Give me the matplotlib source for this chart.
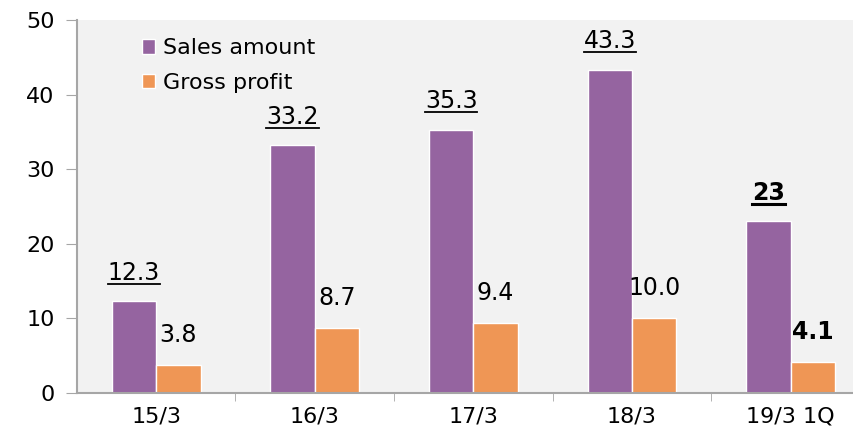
import matplotlib
matplotlib.use("Agg")
import numpy as np
import matplotlib.pyplot as plt
from matplotlib.lines import Line2D

categories = ["15/3", "16/3", "17/3", "18/3", "19/3 1Q"]
sales = [12.3, 33.2, 35.3, 43.3, 23]
profit = [3.8, 8.7, 9.4, 10.0, 4.1]
sales_labels = ["12.3", "33.2", "35.3", "43.3", "23"]
profit_labels = ["3.8", "8.7", "9.4", "10.0", "4.1"]

purple = "#9564a0"
orange = "#ef9655"


def main():
    fig = plt.figure(figsize=(8.54, 4.34), dpi=100)
    ax = fig.add_axes([0.090, 0.0945, 0.910, 0.859])
    ax.set_facecolor("#f2f2f2")

    x = np.arange(len(categories))
    w = 0.28
    ax.bar(x - w / 2, sales, w, color=purple, edgecolor="white", linewidth=1, label="Sales amount")
    ax.bar(x + w / 2, profit, w, color=orange, edgecolor="white", linewidth=1, label="Gross profit")

    # value labels, last category in bold
    underlined = []
    for i in range(len(categories)):
        weight = "bold" if i == len(categories) - 1 else "normal"
        t = ax.annotate(sales_labels[i], (x[i] - w / 2, sales[i]), xytext=(0, 12), textcoords="offset points",
                        ha="center", va="bottom", fontsize=17, fontweight=weight)
        underlined.append((t, weight))
        ax.annotate(profit_labels[i], (x[i] + w / 2, profit[i]), xytext=(0, 13), textcoords="offset points",
                    ha="center", va="bottom", fontsize=17, fontweight=weight)

    ax.set_ylim(0, 50)
    ax.set_yticks([0, 10, 20, 30, 40, 50])
    ax.set_xlim(-0.5, 4.4)
    ax.set_xticks(x)
    ax.set_xticklabels(categories)
    ax.set_xticks(np.arange(0.5, 4.5, 1), minor=True)
    ax.tick_params(axis="x", which="major", length=0, pad=10, labelsize=16)
    ax.tick_params(axis="x", which="minor", length=6, color="#a6a6a6", direction="out")
    ax.tick_params(axis="y", length=8, color="#a6a6a6", pad=8, labelsize=16)

    for side in ["top", "right"]:
        ax.spines[side].set_visible(False)
    for side in ["left", "bottom"]:
        ax.spines[side].set_color("#a6a6a6")
        ax.spines[side].set_linewidth(1.5)

    ax.legend(loc="upper left", bbox_to_anchor=(0.058, 1.005), frameon=False, fontsize=16,
              handlelength=0.6, handleheight=0.6, handletextpad=0.35, labelspacing=0.65)

    # underline the sales labels
    fig.canvas.draw()
    r = fig.canvas.get_renderer()
    W, H = fig.get_size_inches() * fig.dpi
    for t, weight in underlined:
        bb = t.get_window_extent(r)
        yl = (bb.y0 + 1) / H
        lw = 2.2 if weight == "bold" else 1.3
        fig.add_artist(Line2D([bb.x0 / W, bb.x1 / W], [yl, yl], color="black", lw=lw))

    fig.savefig("out.png", dpi=100)


if __name__ == '__main__':
    main()
